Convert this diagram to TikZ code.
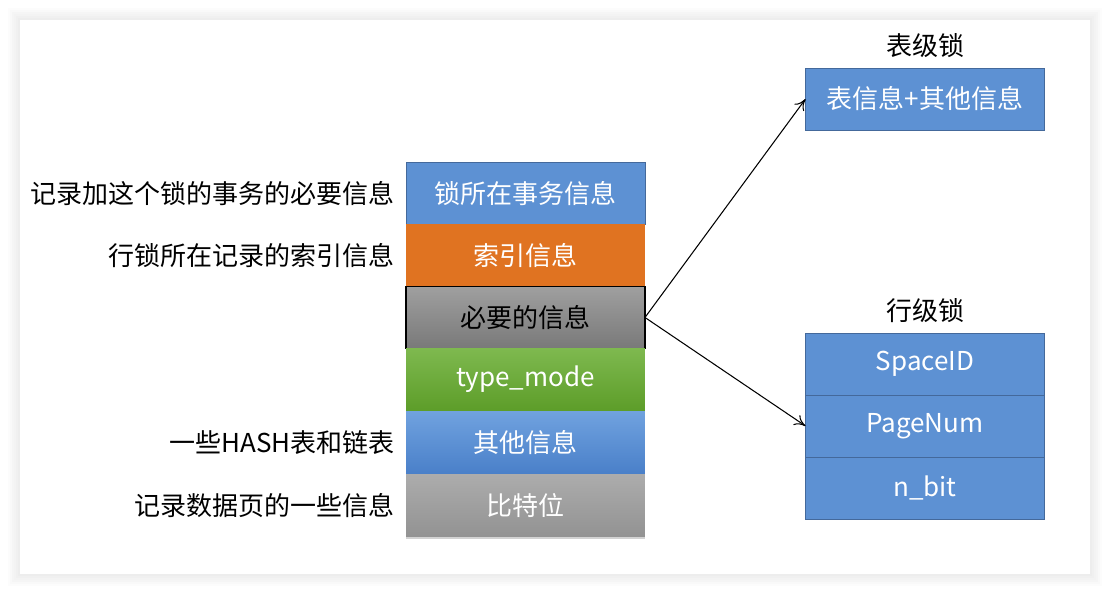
\documentclass[tikz,border=0pt]{standalone}
\usepackage{fontspec}
\setmainfont{Noto Sans CJK SC}
\usetikzlibrary{arrows.meta,positioning,shadows}
\definecolor{cardshade}{HTML}{BDBDBD}
\definecolor{lockblue}{HTML}{5D91D3}
\definecolor{lockedge}{HTML}{44699B}
\definecolor{lockorange}{HTML}{E07321}
\definecolor{greentop}{HTML}{7EB94F}
\definecolor{greenbot}{HTML}{5D9D29}
\definecolor{bluetop}{HTML}{70A2DF}
\definecolor{bluebot}{HTML}{4A80C9}
\tikzset{
  cell/.style={minimum width=4.78cm,minimum height=1.24cm,inner sep=0pt,outer sep=0pt,
    text=white,font=\fontsize{14.8}{17}\selectfont},
  plain/.style={cell,fill=lockblue,draw=lockedge,line width=0.5pt},
  hot/.style={cell,fill=lockorange},
  grey/.style={cell,top color=gray!75,bottom color=gray!105,draw=black,line width=0.6pt,text=black},
  grass/.style={cell,top color=greentop,bottom color=greenbot},
  sky/.style={cell,top color=bluetop,bottom color=bluebot},
  ash/.style={cell,top color=gray!65,bottom color=gray!85,
    drop shadow={shadow xshift=0pt,shadow yshift=-1.5pt,opacity=0.35}},
  note/.style={text=black,font=\fontsize{14.8}{17}\selectfont,inner sep=0pt},
  link/.style={-{To[length=2.2mm,width=2.4mm]},draw=black,line width=0.6pt}
}

\begin{document}
\begin{tikzpicture}[x=0.02cm,y=-0.02cm]
  \useasboundingbox (0,0) rectangle (1110,594);

  % Card with soft shadow.
  \foreach \s in {12,10,...,2}
    \fill[cardshade,opacity=0.05] (20-\s,20-\s) rectangle (1090+\s,574+\s);
  \fill[white] (20,20) rectangle (1090,574);

  % Lock structure.
  \node[plain] (trx) at (525.5,193.5) {锁所在事务信息};
  \node[hot,below=0pt of trx] (index) {索引信息};
  \node[grey,below=0pt of index] (need) {必要的信息};
  \node[grass,below=0pt of need] (mode) {type\_mode};
  \node[sky,below=0.5pt of mode] (other) {其他信息};
  \node[ash,below=0.5pt of other] (bits) {比特位};

  % Notes on the left.
  \node[note,anchor=east,left=0.22cm of trx] {记录加这个锁的事务的必要信息};
  \node[note,anchor=east,left=0.22cm of index] {行锁所在记录的索引信息};
  \node[note,anchor=east,left=0.22cm of other] {一些HASH表和链表};
  \node[note,anchor=east,left=0.22cm of bits] {记录数据页的一些信息};

  % Table lock.
  \node[plain] (tbl) at (925,99) {表信息+其他信息};
  \node[note,above=0.2cm of tbl] {表级锁};

  % Row lock.
  \node[plain] (space) at (925,364) {SpaceID};
  \node[plain,below=0pt of space] (page) {PageNum};
  \node[plain,below=0pt of page] (nbit) {n\_bit};
  \node[note,above=0.2cm of space] {行级锁};

  \draw[link] (need.east) -- (tbl.west);
  \draw[link] (need.east) -- (page.west);
\end{tikzpicture}
\end{document}
